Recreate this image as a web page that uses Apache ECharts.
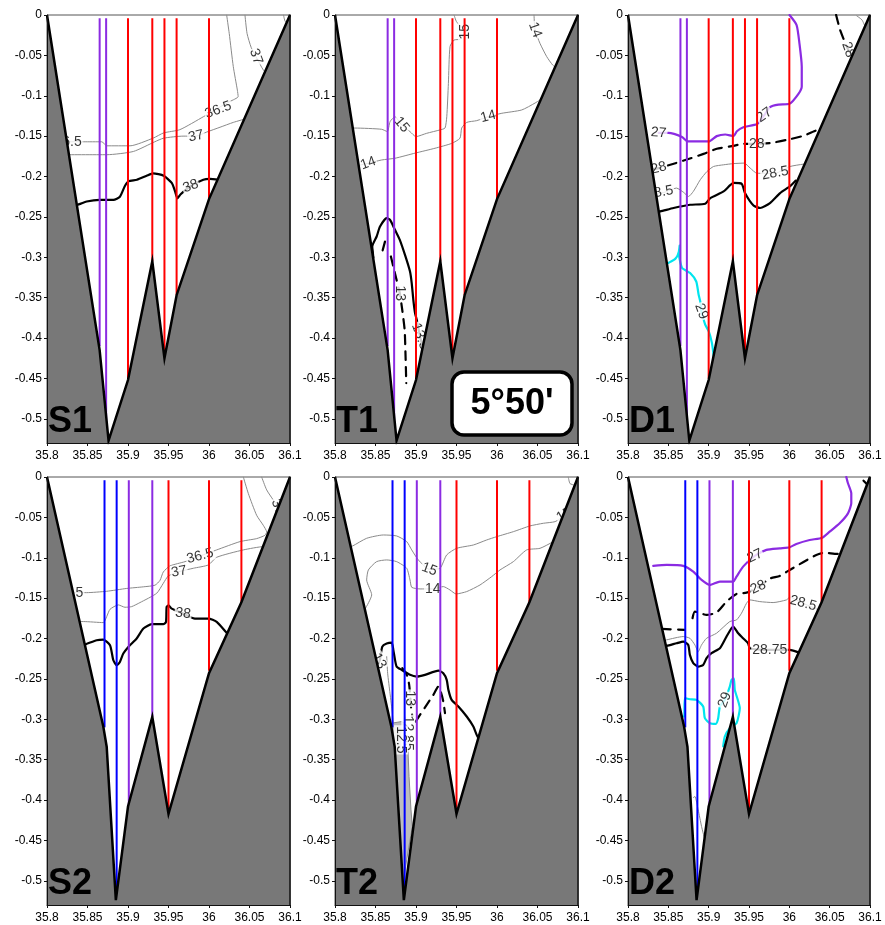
<!DOCTYPE html>
<html><head><meta charset="utf-8">
<script src="https://cdn.jsdelivr.net/npm/echarts@6/dist/echarts.min.js"></script>
<style>html,body{margin:0;padding:0;background:#fff}#c{width:885px;height:925px}</style>
</head><body><div id="c"></div>
<script>
// ---------- DATA ----------
const xTicks = [35.8, 35.85, 35.9, 35.95, 36, 36.05, 36.1];
const yTicks = [0, -0.05, -0.1, -0.15, -0.2, -0.25, -0.3, -0.35, -0.4, -0.45, -0.5];
const panelNames = ['S1', 'T1', 'D1', 'S2', 'T2', 'D2'];
const boxText = "5°50'";

// bathymetry (distance, depth)
const bathyRow1 = [[35.8,0],[35.865,-0.415],[35.876,-0.527],[35.9,-0.452],[35.93,-0.305],[35.945,-0.425],[35.96,-0.347],[36.0,-0.228],[36.1,0]];
const bathyRow2 = [[35.8,0],[35.8695,-0.309],[35.8737,-0.334],[35.885,-0.524],[35.9,-0.408],[35.93,-0.297],[35.95,-0.417],[36.0,-0.243],[36.04,-0.155],[36.1,0]];

// stations: position, bottom depth, class (p = purple, r = red, b = blue)
const stRow1X = [35.865, 35.873, 35.9, 35.93, 35.945, 35.96, 36.0];
const stRow1D = [-0.41, -0.525, -0.45, -0.305, -0.415, -0.347, -0.228];
const stRow1C = ['p','p','r','r','r','r','r'];
const stRow2X = [35.871, 35.886, 35.901, 35.93, 35.95, 36.0, 36.04];
const stRow2D = [-0.31, -0.52, -0.41, -0.297, -0.41, -0.24, -0.155];
const stRow2C = ['b','b','p','p','r','r','r'];

// ---- S1 contours ----
const s1_365 = [[36.0218,0],[36.025,-0.023],[36.030,-0.064],[36.035,-0.093],[36.036,-0.101],[36.026,-0.107],[36.0115,-0.115],[35.993,-0.126],[35.964,-0.142],[35.944,-0.146],[35.931,-0.1525],[35.9025,-0.162],[35.874,-0.162],[35.8675,-0.157],[35.845,-0.157],[35.82,-0.157]];
const s1_37a = [[36.047,-0.128],[36.030,-0.133],[36.0136,-0.139],[35.997,-0.145],[35.984,-0.150],[35.968,-0.150],[35.944,-0.1525],[35.933,-0.157],[35.9066,-0.169],[35.874,-0.173],[35.82,-0.173]];
const s1_37b = [[36.0444,0],[36.047,-0.023],[36.052,-0.040],[36.058,-0.0515],[36.067,-0.068],[36.075,-0.076]];
const s1_38 = [[35.835,-0.236],[35.838,-0.235],[35.849,-0.231],[35.865,-0.229],[35.882,-0.229],[35.890,-0.225],[35.896,-0.212],[35.9004,-0.206],[35.911,-0.204],[35.923,-0.199],[35.931,-0.196],[35.944,-0.199],[35.954,-0.208],[35.958,-0.218],[35.961,-0.227],[35.965,-0.222],[35.977,-0.212],[35.993,-0.204],[36.001,-0.203],[36.012,-0.204]];
const s1_corner = [[36.092,0],[36.094,-0.008],[36.098,-0.01]];
const s1Labels = [[35.826,-0.157,'36.5',0],[36.0115,-0.1175,'36.5',20],[35.984,-0.150,'37',12],[36.058,-0.0515,'37',-70],[35.9774,-0.212,'38',20]];

// ---- T1 contours ----
const t1_15 = [[35.82,-0.140],[35.8247,-0.140],[35.8576,-0.1415],[35.8646,-0.1444],[35.868,-0.132],[35.874,-0.126],[35.8823,-0.136],[35.8926,-0.1444],[35.900,-0.1506],[35.9132,-0.1465],[35.9296,-0.1423],[35.9358,-0.140],[35.938,-0.126],[35.940,-0.0846],[35.942,-0.039],[35.947,-0.031],[35.9543,-0.030],[35.9605,-0.0207],[35.950,-0.0083],[35.947,0]];
const t1_14a = [[35.826,-0.187],[35.841,-0.1836],[35.8577,-0.1795],[35.874,-0.1774],[35.899,-0.171],[35.9235,-0.165],[35.944,-0.159],[35.9543,-0.1526],[35.9564,-0.140],[35.9626,-0.133],[35.975,-0.1308],[35.9893,-0.1258],[36.006,-0.1217],[36.0305,-0.1176],[36.047,-0.109],[36.058,-0.102]];
const t1_14b = [[36.0457,0],[36.047,-0.0186],[36.053,-0.035],[36.0614,-0.0516],[36.0687,-0.0619],[36.074,-0.066]];
const t1_135 = [[35.844,-0.303],[35.8473,-0.301],[35.846,-0.2867],[35.8514,-0.2743],[35.8556,-0.262],[35.8638,-0.2516],[35.868,-0.2537],[35.874,-0.266],[35.880,-0.2785],[35.887,-0.299],[35.8926,-0.3177],[35.8947,-0.332],[35.8967,-0.3527],[35.8988,-0.369],[35.9009,-0.3775],[35.905,-0.398],[35.908,-0.41]];
const t1_13a = [[35.8617,-0.2806],[35.8584,-0.293]];
const t1_13b = [[35.869,-0.299],[35.872,-0.3115],[35.876,-0.328],[35.880,-0.3445],[35.883,-0.365],[35.886,-0.39],[35.887,-0.4187],[35.888,-0.4558]];
const t1Labels = [[35.8823,-0.136,'15',-50],[35.9605,-0.0207,'15',90],[35.841,-0.1836,'14',20],[35.9893,-0.1258,'14',15],[36.047,-0.0186,'14',-70],[35.880,-0.3445,'13',-90],[35.905,-0.398,'13.5',-70]];

// ---- D1 contours ----
const d1_27 = [[36.0002,0],[36.009,-0.0124],[36.0125,-0.035],[36.0154,-0.064],[36.0154,-0.0886],[36.0113,-0.0977],[36.0002,-0.110],[35.9865,-0.111],[35.976,-0.114],[35.969,-0.124],[35.960,-0.135],[35.943,-0.139],[35.935,-0.144],[35.931,-0.150],[35.9205,-0.148],[35.910,-0.150],[35.900,-0.1566],[35.8854,-0.1566],[35.874,-0.1566],[35.867,-0.151],[35.850,-0.146],[35.838,-0.146]];
const d1_28a = [[35.830,-0.191],[35.838,-0.1896],[35.8524,-0.1855],[35.873,-0.179],[35.8937,-0.172],[35.910,-0.1657],[35.931,-0.162],[35.943,-0.1595],[35.9597,-0.1595],[35.976,-0.1587],[35.997,-0.1546],[36.0175,-0.1496],[36.030,-0.1443],[36.040,-0.140],[36.045,-0.138]];
const d1_28b = [[36.058,0],[36.063,-0.0186],[36.073,-0.043],[36.08,-0.052]];
const d1_285 = [[35.838,-0.221],[35.845,-0.2197],[35.860,-0.2143],[35.869,-0.2197],[35.875,-0.2247],[35.881,-0.2185],[35.8896,-0.204],[35.898,-0.1937],[35.906,-0.1876],[35.9185,-0.1855],[35.931,-0.184],[35.944,-0.1834],[35.9515,-0.1896],[35.960,-0.196],[35.9824,-0.196],[36.001,-0.1876],[36.0175,-0.1847],[36.026,-0.184]];
const d1_2875 = [[35.837,-0.2435],[35.840,-0.2432],[35.8565,-0.239],[35.877,-0.235],[35.8957,-0.2337],[35.902,-0.2267],[35.9185,-0.2185],[35.931,-0.208],[35.941,-0.209],[35.945,-0.2205],[35.9556,-0.236],[35.9638,-0.239],[35.976,-0.2329],[35.9886,-0.2205],[36.001,-0.212],[36.008,-0.205]];
const d1_29a = [[35.850,-0.307],[35.852,-0.306],[35.8586,-0.302],[35.8627,-0.2947],[35.864,-0.2857]];
const d1_29b = [[35.8627,-0.2947],[35.8669,-0.313],[35.877,-0.3195],[35.8846,-0.33],[35.8875,-0.346],[35.890,-0.3566],[35.891,-0.367],[35.8957,-0.3833],[35.900,-0.3916],[35.904,-0.406],[35.906,-0.4205],[35.907,-0.43]];
const d1_corner = [[36.0835,-0.001],[36.09,-0.006],[36.094,-0.0144]];
const d1Labels = [[35.838,-0.146,'27',-5],[35.969,-0.124,'27',35],[35.838,-0.1896,'28',15],[35.9597,-0.1595,'28',0],[36.073,-0.043,'28',-70],[35.8396,-0.2197,'28.5',10],[35.9824,-0.196,'28.5',10],[35.891,-0.367,'29',-70]];

// ---- S2 contours ----
const s2_365 = [[36.0424,0],[36.0486,-0.0206],[36.0588,-0.0474],[36.067,-0.0598],[36.0712,-0.068],[36.069,-0.0722],[36.0588,-0.0763],[36.0383,-0.080],[36.0095,-0.0903],[35.9889,-0.0978],[35.9704,-0.1048],[35.9519,-0.1101],[35.9436,-0.1176],[35.9395,-0.128],[35.9333,-0.134],[35.919,-0.136],[35.8984,-0.138],[35.8737,-0.1415],[35.849,-0.1432],[35.826,-0.1432]];
const s2_37a = [[36.072,-0.0862],[36.0679,-0.0862],[36.0424,-0.0903],[36.0095,-0.0994],[35.9992,-0.1089],[35.9807,-0.113],[35.963,-0.1172],[35.9498,-0.1225],[35.9436,-0.1316],[35.9354,-0.144],[35.9148,-0.1555],[35.9045,-0.1605],[35.8963,-0.1613],[35.8881,-0.1584],[35.8778,-0.1638],[35.8737,-0.1729],[35.8695,-0.1803],[35.8449,-0.179],[35.838,-0.179]];
const s2_37b = [[36.065,0],[36.0712,-0.016],[36.0794,-0.0285],[36.088,-0.04]];
const s2_38 = [[35.845,-0.2075],[35.848,-0.2071],[35.8613,-0.2021],[35.8695,-0.2013],[35.8778,-0.2083],[35.8819,-0.2269],[35.886,-0.2331],[35.890,-0.229],[35.8942,-0.2186],[35.9004,-0.2104],[35.9107,-0.200],[35.919,-0.1877],[35.9292,-0.1823],[35.9436,-0.1823],[35.9469,-0.1795],[35.9477,-0.161],[35.950,-0.159],[35.954,-0.163],[35.968,-0.169],[35.9827,-0.1753],[35.9992,-0.1753],[36.0095,-0.1795],[36.0218,-0.193],[36.026,-0.197]];
const s2Labels = [[35.828,-0.1432,'36.5',0],[35.989,-0.0978,'36.5',15],[35.963,-0.1172,'37',10],[36.085,-0.037,'37',-70],[35.968,-0.169,'38',-8]];

// ---- T2 contours ----
const t2_15 = [[35.818,-0.0865],[35.8218,-0.0854],[35.8391,-0.0759],[35.8597,-0.0718],[35.8761,-0.073],[35.8885,-0.080],[35.8947,-0.0903],[35.9029,-0.1027],[35.9165,-0.1143],[35.9296,-0.113],[35.9379,-0.0965],[35.9502,-0.0883],[35.9708,-0.0842],[35.9872,-0.078],[35.9996,-0.0739],[36.0202,-0.0677],[36.0407,-0.0606],[36.0572,-0.0573],[36.0716,-0.0553],[36.082,-0.049]];
const t2_14 = [[35.838,-0.162],[35.8453,-0.146],[35.8391,-0.1275],[35.8412,-0.1151],[35.8514,-0.1048],[35.8638,-0.1027],[35.8761,-0.1048],[35.8885,-0.113],[35.8926,-0.1275],[35.8947,-0.1366],[35.905,-0.1386],[35.9206,-0.1386],[35.9337,-0.1357],[35.942,-0.1399],[35.9494,-0.1448],[35.9626,-0.1419],[35.979,-0.1337],[35.9934,-0.1234],[36.0037,-0.1151],[36.0202,-0.1048],[36.0366,-0.0903],[36.0531,-0.0883],[36.0695,-0.080],[36.078,-0.074]];
const t2_135 = [[35.852,-0.235],[35.8556,-0.2257],[35.8584,-0.21],[35.8638,-0.2062],[35.870,-0.205],[35.872,-0.2141],[35.8741,-0.2265],[35.8761,-0.2347],[35.8823,-0.2389],[35.8926,-0.245],[35.9008,-0.2471],[35.9111,-0.245],[35.9276,-0.2397],[35.9337,-0.243],[35.9379,-0.2512],[35.940,-0.2636],[35.944,-0.276],[35.9523,-0.2842],[35.9626,-0.2966],[35.9708,-0.309],[35.9749,-0.3193],[35.978,-0.325]];
const t2_13a = [[35.8831,-0.2368],[35.8885,-0.245],[35.8914,-0.2562],[35.8926,-0.2677],[35.8938,-0.2842],[35.8955,-0.2966]];
const t2_13b = [[35.8996,-0.3028],[35.9049,-0.2946],[35.9132,-0.2822],[35.9214,-0.2698],[35.9276,-0.2595],[35.9309,-0.2669],[35.9337,-0.278],[35.9358,-0.2925]];
const t2_grayL = [[35.8638,-0.2224],[35.865,-0.243],[35.8679,-0.2677],[35.8708,-0.2925],[35.872,-0.305]];
const t2_fill = [[35.870,-0.3049],[35.8823,-0.3028],[35.8877,-0.3057],[35.8897,-0.3296],[35.8914,-0.3709],[35.8938,-0.4121],[35.8955,-0.4328],[35.8885,-0.474],[35.8823,-0.5153],[35.875,-0.52],[35.868,-0.31]];
const t2_corner = [[36.088,0],[36.09,-0.008],[36.095,-0.01]];
const t2Labels = [[35.9165,-0.1143,'15',-20],[35.9206,-0.1386,'14',0],[36.083,-0.047,'15',30],[35.8926,-0.2739,'13',-90],[35.8905,-0.3172,'12.85',-90],[35.8815,-0.3255,'12.5',-90],[35.8545,-0.228,'13',-60]];

// ---- D2 contours ----
const d2_27 = [[35.8313,-0.1101],[35.8479,-0.1089],[35.8685,-0.1101],[35.8809,-0.1172],[35.8912,-0.1275],[35.9015,-0.1337],[35.9139,-0.1295],[35.9304,-0.1295],[35.9345,-0.1234],[35.9427,-0.111],[35.9572,-0.0978],[35.9716,-0.0903],[35.9881,-0.0883],[36.0005,-0.087],[36.0087,-0.0829],[36.0252,-0.078],[36.0409,-0.0751],[36.05,-0.0677],[36.0624,-0.0573],[36.0727,-0.045],[36.0768,-0.0326],[36.0768,-0.0202],[36.0727,-0.0078],[36.0706,0]];
const d2_28a = [[35.842,-0.1881],[35.8705,-0.1894]];
const d2_28b = [[35.88,-0.1749],[35.8829,-0.1667],[35.8974,-0.1708],[35.9097,-0.1679],[35.9221,-0.1543],[35.9345,-0.1448],[35.9469,-0.1432],[35.9613,-0.1366],[35.9757,-0.1258],[35.9881,-0.1225],[36.0005,-0.1151],[36.017,-0.1056],[36.0335,-0.0965],[36.0438,-0.0937],[36.0591,-0.0953],[36.07,-0.0953]];
const d2_285 = [[35.842,-0.2037],[35.8479,-0.2017],[35.8685,-0.1976],[35.8767,-0.1997],[35.8829,-0.2079],[35.887,-0.2162],[35.8912,-0.2079],[35.8974,-0.1997],[35.9097,-0.1935],[35.9262,-0.179],[35.9345,-0.177],[35.9407,-0.1687],[35.9469,-0.1564],[35.951,-0.1522],[35.9634,-0.1543],[35.9799,-0.1555],[35.9964,-0.1522],[36.0005,-0.1489],[36.017,-0.1564],[36.04,-0.166]];
const d2_2875 = [[35.845,-0.2095],[35.8479,-0.2092],[35.8602,-0.2059],[35.8685,-0.2038],[35.8747,-0.2079],[35.8767,-0.2203],[35.8809,-0.2306],[35.887,-0.2347],[35.8932,-0.2327],[35.8974,-0.2244],[35.9035,-0.2182],[35.9139,-0.212],[35.9221,-0.1976],[35.9304,-0.1852],[35.9366,-0.1935],[35.9427,-0.1997],[35.9489,-0.2059],[35.951,-0.212],[35.9757,-0.2141],[36.0005,-0.2141],[36.0087,-0.2162],[36.015,-0.219]];
const d2_29 = [[35.868,-0.2966],[35.8697,-0.2966],[35.8705,-0.2739],[35.8767,-0.2752],[35.885,-0.276],[35.8932,-0.2842],[35.8953,-0.2987],[35.9015,-0.3049],[35.9089,-0.3057],[35.9118,-0.2987],[35.9139,-0.2842],[35.92,-0.276],[35.9262,-0.2595],[35.9283,-0.2512],[35.9312,-0.2492],[35.9324,-0.2636],[35.9386,-0.2863],[35.9345,-0.3049],[35.9262,-0.311],[35.92,-0.3214],[35.918,-0.3337]];
const d2_grayB = [[35.881,-0.397],[35.8829,-0.3956],[35.887,-0.4121],[35.8912,-0.4328],[35.8953,-0.4493]];
const d2_corner = [[36.092,-0.0045],[36.096,-0.0087]];
const d2Labels = [[35.9572,-0.0978,'27',25],[35.9613,-0.1366,'28',25],[36.017,-0.1564,'28.5',-15],[35.9757,-0.2141,'28.75',0],[35.92,-0.276,'29',70]];

// ---------- STYLE / LAYOUT ----------
const FONT = 'Liberation Sans, Arial, Helvetica, sans-serif';
const LAYOUT = {cols:[47,335,628], widths:[243,243,242], rows:[15,477], height:428};
const STATION_COLORS = {p:'#8B2BE2', r:'#FF0000', b:'#0000FF'};
const LINE = {
  thin:   {color:'#8a8a8a', width:1},
  black:  {color:'#000000', width:2.2},
  dash:   {color:'#000000', width:2.2, type:[9,7]},
  purple: {color:'#8B2BE2', width:2.2},
  cyan:   {color:'#00E5EE', width:2.2}
};
const BATHY_FILL = '#787878';

const panels = [
  {row:0, col:0, bathy:bathyRow1, st:[stRow1X,stRow1D,stRow1C], labels:s1Labels,
   contours:[[s1_365,'thin'],[s1_37a,'thin'],[s1_37b,'thin'],[s1_corner,'thin'],[s1_38,'black']]},
  {row:0, col:1, bathy:bathyRow1, st:[stRow1X,stRow1D,stRow1C], labels:t1Labels,
   contours:[[t1_15,'thin'],[t1_14a,'thin'],[t1_14b,'thin'],[t1_135,'black'],[t1_13a,'dash'],[t1_13b,'dash']]},
  {row:0, col:2, bathy:bathyRow1, st:[stRow1X,stRow1D,stRow1C], labels:d1Labels,
   contours:[[d1_27,'purple'],[d1_28a,'dash'],[d1_28b,'dash'],[d1_285,'thin'],[d1_corner,'thin'],[d1_2875,'black'],[d1_29a,'cyan'],[d1_29b,'cyan']]},
  {row:1, col:0, bathy:bathyRow2, st:[stRow2X,stRow2D,stRow2C], labels:s2Labels,
   contours:[[s2_365,'thin'],[s2_37a,'thin'],[s2_37b,'thin'],[s2_38,'black']]},
  {row:1, col:1, bathy:bathyRow2, st:[stRow2X,stRow2D,stRow2C], labels:t2Labels, fill:t2_fill,
   contours:[[t2_15,'thin'],[t2_14,'thin'],[t2_grayL,'thin'],[t2_corner,'thin'],[t2_135,'black'],[t2_13a,'dash'],[t2_13b,'dash']]},
  {row:1, col:2, bathy:bathyRow2, st:[stRow2X,stRow2D,stRow2C], labels:d2Labels,
   contours:[[d2_27,'purple'],[d2_28a,'dash'],[d2_28b,'dash'],[d2_285,'thin'],[d2_grayB,'thin'],[d2_2875,'black'],[d2_29,'cyan'],[d2_corner,'black']]}
];

const option = {backgroundColor:'#ffffff', animation:false, grid:[], xAxis:[], yAxis:[], series:[], graphic:[]};
const fmt = v => String(v);

panels.forEach((p, i) => {
  const left = LAYOUT.cols[p.col], top = LAYOUT.rows[p.row];
  option.grid.push({left:left, top:top, width:LAYOUT.widths[p.col], height:LAYOUT.height,
    show:true, borderColor:'#555', borderWidth:1, backgroundColor:'#fff'});
  option.xAxis.push({type:'value', gridIndex:i, min:35.8, max:36.1, z:6,
    axisLine:{show:true, onZero:false, lineStyle:{color:'#111', width:1}},
    axisTick:{show:true, length:3, customValues:xTicks, lineStyle:{color:'#111'}},
    axisLabel:{customValues:xTicks, formatter:fmt, fontSize:12, color:'#000', fontFamily:FONT, margin:7},
    splitLine:{show:false}});
  option.yAxis.push({type:'value', gridIndex:i, min:-0.53, max:0, z:6,
    axisLine:{show:true, onZero:false, lineStyle:{color:'#111', width:1}},
    axisTick:{show:true, length:3, customValues:yTicks, lineStyle:{color:'#111'}},
    axisLabel:{customValues:yTicks, formatter:fmt, fontSize:12, color:'#000', fontFamily:FONT, margin:5},
    splitLine:{show:false}});
  option.yAxis.push({type:'value', gridIndex:i, position:'right', min:-0.53, max:0, z:6,
    axisLine:{show:true, onZero:false, lineStyle:{color:'#111', width:1.5}},
    axisTick:{show:false}, axisLabel:{show:false}, splitLine:{show:false}});
  const yi = 2 * i;

  if (p.fill) {
    const pts = p.fill;
    option.series.push({type:'custom', xAxisIndex:i, yAxisIndex:yi, z:1, silent:true, data:[[35.9,-0.4]],
      renderItem:(params, api) => ({type:'polygon', shape:{points:pts.map(q => api.coord(q))},
        style:{fill:'#bdbdbd', stroke:'#8a8a8a', lineWidth:1}})});
  }
  p.contours.forEach(c => {
    option.series.push({type:'line', xAxisIndex:i, yAxisIndex:yi, z:2, silent:true, data:c[0],
      symbol:'none', smooth:0.2, lineStyle:Object.assign({cap:'round', join:'round'}, LINE[c[1]])});
  });
  option.series.push({type:'scatter', xAxisIndex:i, yAxisIndex:yi, z:3, silent:true, symbolSize:1,
    itemStyle:{color:'rgba(0,0,0,0)'},
    label:{show:true, position:'inside', fontSize:14, fontFamily:FONT, color:'#000', backgroundColor:'#fff', padding:[0,1]},
    data:p.labels.map(l => ({value:[l[0], l[1]], label:{formatter:l[2], rotate:l[3]}}))});
  const [sx, sd, sc] = p.st;
  sx.forEach((x, k) => {
    option.series.push({type:'line', xAxisIndex:i, yAxisIndex:yi, z:4, silent:true, symbol:'none',
      data:[[x, -0.004], [x, sd[k]]], lineStyle:{color:STATION_COLORS[sc[k]], width:2}});
  });
  option.series.push({type:'line', xAxisIndex:i, yAxisIndex:yi, z:5, silent:true, symbol:'none', data:p.bathy,
    lineStyle:{color:'#000', width:2.5, join:'miter'}, areaStyle:{color:BATHY_FILL, opacity:1, origin:'start'}});

  option.graphic.push({type:'text', z:20, style:{x:left + 1, y:top + 407, text:panelNames[i],
    font:'bold 36px ' + FONT, fill:'#000', textAlign:'left', textVerticalAlign:'middle', align:'left', verticalAlign:'middle'}});
});

option.graphic.push({type:'rect', z:20, shape:{x:452, y:372, width:120, height:63, r:12},
  style:{fill:'#fff', stroke:'#000', lineWidth:3.5}});
option.graphic.push({type:'text', z:21, style:{x:512, y:404, text:boxText, font:'bold 36px ' + FONT, fill:'#000',
  textAlign:'center', textVerticalAlign:'middle', align:'center', verticalAlign:'middle'}});

const chart = echarts.init(document.getElementById('c'), null, {renderer:'canvas'});
chart.setOption(option);
</script></body></html>
